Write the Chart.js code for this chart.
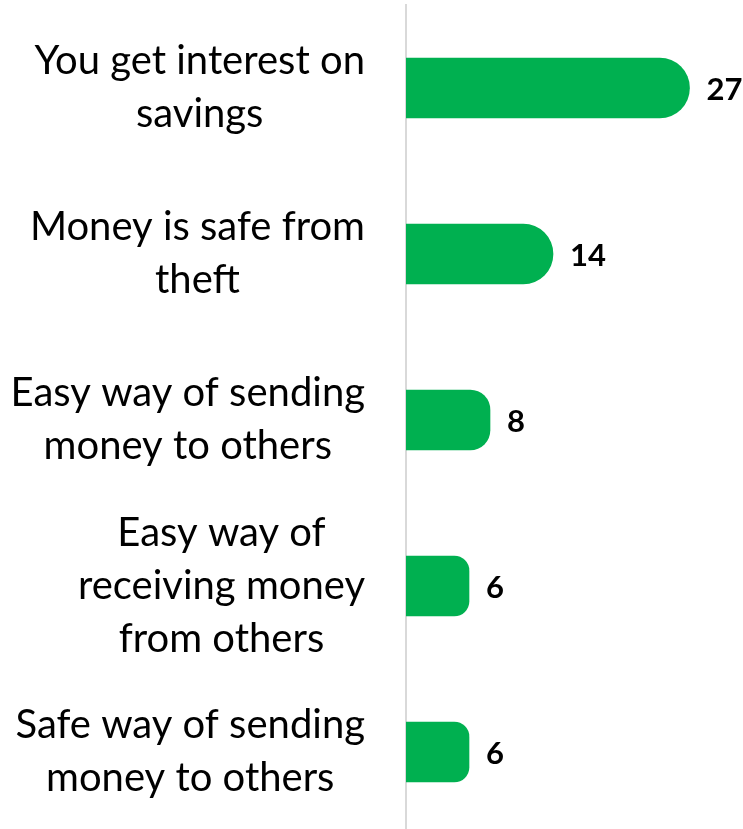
<!DOCTYPE html>
<html>
<head>
<meta charset="utf-8">
<script src="https://cdn.jsdelivr.net/npm/chart.js@4/dist/chart.umd.min.js"></script>
<style>
  html, body { margin: 0; padding: 0; background: #ffffff; overflow: hidden; }
  #wrap { width: 743px; height: 835px; }
</style>
</head>
<body>
<div id="wrap"><canvas id="chart"></canvas></div>
<script>
// Reasons given for using a bank account (number of respondents)
const categories = [
  ['You get interest on', 'savings'],
  ['Money is safe from', 'theft'],
  ['Easy way of sending', 'money to others'],
  ['Easy way of', 'receiving money', 'from others'],
  ['Safe way of sending', 'money to others']
];
const counts = [27, 14, 8, 6, 6];

const LABEL_FONT = '40px Lato, "Open Sans", sans-serif';
const VALUE_FONT = 'bold 31px Lato, "Open Sans", sans-serif';
const LINE_GAP = 53;
const LABEL_RIGHT = 365;

// Category labels: each block right-aligned, lines centred within the block
const categoryLabels = {
  id: 'categoryLabels',
  afterDraw(chart) {
    const ctx = chart.ctx;
    const yScale = chart.scales.y;
    ctx.save();
    ctx.font = LABEL_FONT;
    ctx.fillStyle = '#000000';
    ctx.textAlign = 'center';
    ctx.textBaseline = 'middle';
    categories.forEach((lines, i) => {
      const cy = yScale.getPixelForTick(i);
      const widest = Math.max(...lines.map(l => ctx.measureText(l).width));
      const cx = LABEL_RIGHT - widest / 2;
      const top = cy - (lines.length - 1) * LINE_GAP / 2;
      lines.forEach((line, j) => ctx.fillText(line, cx, top + j * LINE_GAP));
    });
    ctx.restore();
  }
};

// Value labels at the end of each bar
const valueLabels = {
  id: 'valueLabels',
  afterDatasetsDraw(chart) {
    const ctx = chart.ctx;
    const meta = chart.getDatasetMeta(0);
    ctx.save();
    ctx.font = VALUE_FONT;
    ctx.fillStyle = '#000000';
    ctx.textAlign = 'left';
    ctx.textBaseline = 'middle';
    meta.data.forEach((bar, i) => {
      ctx.fillText(String(counts[i]), bar.x + 17, bar.y + 2);
    });
    ctx.restore();
  }
};

new Chart(document.getElementById('chart'), {
  type: 'bar',
  data: {
    labels: categories,
    datasets: [{
      data: counts,
      backgroundColor: '#00B050',
      borderWidth: 0,
      borderSkipped: 'start',
      borderRadius: ctx => Math.min(30, (ctx.raw || 0) * 2.5),
      barThickness: 60
    }]
  },
  options: {
    indexAxis: 'y',
    responsive: true,
    maintainAspectRatio: false,
    animation: false,
    layout: { padding: { top: 5, right: 22, bottom: 0, left: 0 } },
    plugins: {
      legend: { display: false },
      tooltip: { enabled: false }
    },
    scales: {
      x: {
        display: false,
        min: 0,
        max: 30
      },
      y: {
        afterFit(scale) { scale.width = 406; },
        grid: { display: false, drawTicks: false },
        border: { display: true, color: '#d9d9d9', width: 2 },
        ticks: { display: false }
      }
    }
  },
  plugins: [categoryLabels, valueLabels]
});
</script>
</body>
</html>
